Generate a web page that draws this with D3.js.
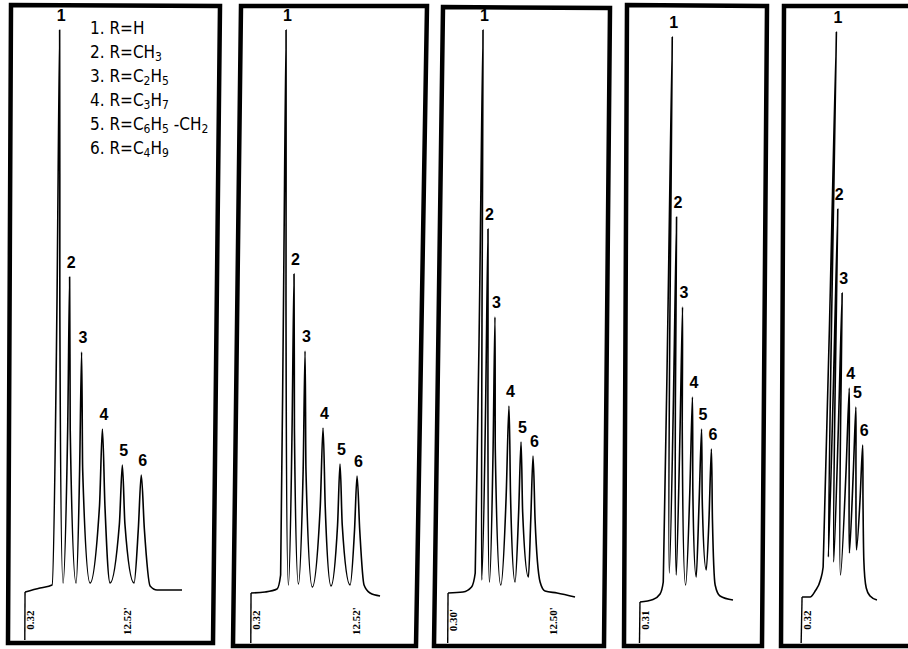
<!DOCTYPE html>
<html lang="en">
<head>
    <meta charset="UTF-8">
    <title>Chromatograms</title>
    <script src="https://d3js.org/d3.v7.min.js"></script>
    <style>
        body { margin: 0; background: #fff; }
        .box { fill: none; stroke: #000; stroke-width: 4.5; stroke-linejoin: miter; }
        .trace { fill: none; stroke: #000; stroke-width: 1.6; stroke-linejoin: round; }
        .marker { stroke: #000; stroke-width: 1.4; }
        .peak { font-family: "Liberation Sans", Arial, sans-serif; font-weight: bold; font-size: 16px; }
        .stamp { font-family: "Liberation Serif", serif; font-weight: bold; font-size: 11px; }
        .legend { font-family: "DejaVu Sans Condensed", "Liberation Sans Narrow", "DejaVu Sans", sans-serif; font-stretch: condensed; }
    </style>
</head>
<body>
    <svg width="908" height="649"></svg>
    <script>
        // legend of compounds
        const legendItems = ["1. R=H", "2. R=CH3", "3. R=C2H5", "4. R=C3H7", "5. R=C6H5 -CH2", "6. R=C4H9"];

        // traces: time (min) and detector signal
        const p1Time = [0.32, 2.08, 3.50, 3.91, 4.06, 4.24, 4.79, 5.24, 5.38, 5.54, 6.32, 6.67, 6.83, 7.03, 7.97, 9.03, 9.32, 9.67, 10.32, 11.38, 11.69, 12.03, 13.14, 13.61, 13.92, 14.32, 15.03, 15.85, 18.79];
        const p1Signal = [0.8, 1.2, 1.5, 30, 57, 30, 1.7, 17, 32.3, 17, 1.7, 13, 24.8, 13, 1.7, 9.4, 17.1, 9.4, 1.7, 7.6, 13.5, 7.6, 1.7, 7.1, 12.5, 7.1, 1.4, 1.0, 1.0];

        const p2Time = [0.32, 1.97, 3.38, 3.79, 3.97, 4.11, 4.26, 4.71, 5.05, 5.19, 5.33, 5.89, 6.38, 6.53, 6.71, 7.53, 8.41, 8.69, 9.00, 9.73, 10.46, 10.71, 11.01, 11.97, 12.46, 12.72, 13.07, 13.61, 14.32, 15.50];
        const p2Signal = [0.7, 0.8, 1.1, 2.5, 30, 57, 30, 1.5, 17, 32.6, 17, 1.6, 13, 24.9, 13, 1.3, 9.3, 17.2, 9.3, 1.4, 7.5, 13.6, 7.5, 1.5, 7.0, 12.4, 7.0, 1.5, 0.7, 0.4];

        const p3Time = [0.30, 2.06, 3.06, 3.48, 3.77, 3.95, 4.06, 4.24, 4.57, 4.70, 4.83, 5.16, 5.48, 5.59, 5.74, 6.50, 7.06, 7.31, 7.57, 8.18, 8.54, 8.76, 9.01, 9.75, 9.97, 10.18, 10.48, 11.12, 11.71, 13.12, 15.24];
        const p3Signal = [0.7, 0.8, 1.3, 2.7, 30, 57, 30, 2.0, 20, 37.1, 20, 1.8, 15, 28.3, 15, 1.5, 10.5, 19.4, 10.5, 1.8, 8.8, 15.8, 8.8, 2.3, 8.0, 14.4, 8.0, 1.8, 0.9, 0.7, 0.3];

        const p4Time = [0.31, 1.84, 2.66, 3.02, 3.19, 3.31, 3.43, 3.72, 3.96, 4.07, 4.19, 4.55, 4.78, 4.90, 5.04, 5.66, 6.02, 6.19, 6.37, 6.90, 7.13, 7.31, 7.49, 8.07, 8.31, 8.49, 8.72, 9.13, 9.72, 11.25];
        const p4Signal = [-0.2, 0.05, 0.6, 1.8, 28, 56.3, 28, 2.7, 20, 38.3, 20, 2.5, 17, 29.3, 17, 1.5, 11, 20.3, 11, 2.3, 10, 17.1, 10, 3.0, 8, 15.1, 8, 1.5, 0.4, 0];

        const p5Time = [0.32, 1.26, 1.85, 2.44, 2.73, 2.91, 3.03, 3.14, 3.32, 3.50, 3.61, 3.73, 3.97, 4.20, 4.32, 4.44, 4.79, 5.20, 5.38, 5.56, 5.79, 6.06, 6.20, 6.36, 6.61, 6.91, 7.09, 7.26, 7.50, 7.85, 8.32, 9.14];
        const p5Signal = [0.3, 0.3, 0.9, 2.0, 3.3, 28, 56.8, 28, 4.3, 20, 39.1, 20, 3.8, 18, 30.7, 18, 2.5, 13, 21.2, 13, 4.7, 13, 19.3, 13, 5.0, 10, 15.5, 10, 4.0, 1.2, 0.4, 0];

        // printed time stamps (start / end) per run
        const startStamps = ["0.32", "0.32", "0.30'", "0.31", "0.32"];
        const endStamps = ["12.52'", "12.52'", "12.50'", null, null];
        const endStampTimes = [12.32, 12.67, 12.65, null, null];

        // layout of the five strips
        const panels = [
            {time: p1Time, signal: p1Signal, x0: 22.28, skew: 0.005, box: [[11, 5], [220, 6], [213, 643], [8, 643]]},
            {time: p2Time, signal: p2Signal, x0: 248.28, skew: 0.005, box: [[241, 6], [427, 6], [416, 646], [233, 646]]},
            {time: p3Time, signal: p3Signal, x0: 445.45, skew: 0.007, box: [[443, 7], [610, 8], [604, 646], [434, 646]]},
            {time: p4Time, signal: p4Signal, x0: 637.37, skew: 0.012, box: [[627, 5], [767, 6], [762, 646], [624, 646]]},
            {time: p5Time, signal: p5Signal, x0: 799.28, skew: 0.02, box: [[784, 6], [930, 6], [930, 646], [781, 646]]}
        ];

        const svg = d3.select("svg");
        const pxPerMin = 8.5;
        const base = 600;
        const y = d3.scaleLinear().domain([0, 57]).range([base, 30]);

        panels.forEach((p, i) => {
            const x = d3.scaleLinear().domain([0, 20]).range([p.x0, p.x0 + 20 * pxPerMin]);
            const g = svg.append("g");

            g.append("polygon")
             .attr("class", "box")
             .attr("points", p.box.map(d => d.join(",")).join(" "));

            // pen arc makes tall peaks lean right
            const tg = g.append("g")
                        .attr("transform", `matrix(1,0,${-p.skew},1,${p.skew * base},0)`);

            const pts = d3.zip(p.time, p.signal);
            tg.append("path")
              .datum(pts)
              .attr("class", "trace")
              .attr("d", d3.line()
                           .x(d => x(d[0]))
                           .y(d => y(d[1]))
                           .curve(d3.curveMonotoneX));

            tg.append("line")
              .attr("class", "marker")
              .attr("x1", x(p.time[0])).attr("x2", x(p.time[0]))
              .attr("y1", y(p.signal[0])).attr("y2", p.box[3][1] - 3);

            // peak numbers over each local maximum
            const peaks = pts.filter((d, k) => k > 0 && k < pts.length - 1 &&
                                    d[1] > pts[k - 1][1] && d[1] > pts[k + 1][1]);
            g.selectAll(".peak")
             .data(peaks)
             .enter().append("text")
             .attr("class", "peak")
             .attr("text-anchor", "middle")
             .attr("x", d => x(d[0]) + p.skew * (base - y(d[1])) + 1.5)
             .attr("y", d => y(d[1]) - 9)
             .text((d, k) => k + 1);

            g.append("text")
             .attr("class", "stamp")
             .attr("text-anchor", "middle")
             .attr("dominant-baseline", "central")
             .attr("transform", `translate(${x(p.time[0]) + 4.5},620) rotate(-90)`)
             .text(startStamps[i]);

            if (endStamps[i]) {
                g.append("text")
                 .attr("class", "stamp")
                 .attr("text-anchor", "middle")
                 .attr("dominant-baseline", "central")
                 .attr("transform", `translate(${x(endStampTimes[i])},621) rotate(-90)`)
                 .text(endStamps[i]);
            }
        });

        // legend, digits after an element symbol set as subscripts
        const legend = svg.append("g").attr("class", "legend");
        legendItems.forEach((s, i) => {
            const t = legend.append("text").attr("x", 90).attr("y", 34 + i * 24);
            let shifted = false;
            s.split(/(?<=[A-Za-z])(\d)/).forEach((part, k) => {
                if (!part) return;
                const sub = k % 2 === 1;
                const dy = sub && !shifted ? 3 : (!sub && shifted ? -3 : 0);
                shifted = sub;
                t.append("tspan")
                 .attr("dy", dy)
                 .attr("font-size", sub ? 12 : 17)
                 .text(part);
            });
        });
    </script>
</body>
</html>
